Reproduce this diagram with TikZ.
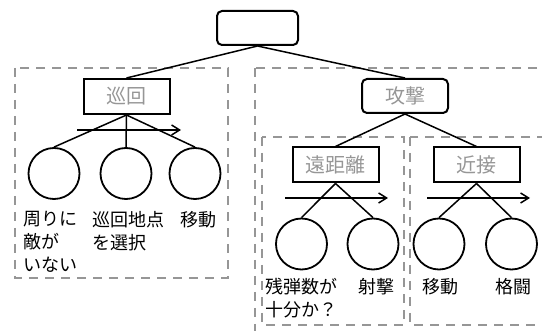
\documentclass[tikz,border=0pt]{standalone}
\usepackage{fontspec}
\setmainfont{Noto Sans CJK JP}
\usetikzlibrary{arrows.meta}
\definecolor{dashgray}{RGB}{150,150,150}
\definecolor{labelgray}{RGB}{150,150,150}
\tikzset{
  group/.style={draw=dashgray, line width=2pt, dash pattern=on 9pt off 7pt},
  rootbox/.style={draw, line width=2pt, rounded corners=5pt, minimum width=81pt, minimum height=34pt, inner sep=0pt},
  selbox/.style={draw, line width=2pt, rounded corners=5pt, minimum width=86pt, minimum height=34pt, inner sep=0pt, text=labelgray, font=\fontsize{20}{24}\selectfont},
  seqbox/.style={draw, line width=2pt, minimum width=86pt, minimum height=35pt, inner sep=0pt, text=labelgray, font=\fontsize{20}{24}\selectfont},
  leaf/.style={draw, circle, line width=1.8pt, minimum size=51pt, inner sep=0pt},
  edge/.style={line width=1.5pt},
  order/.style={line width=1.5pt, -{Straight Barb[length=8pt,width=10pt]}},
  leaftext/.style={anchor=north west, inner sep=0pt, align=left, font=\fontsize{18}{23}\selectfont},
}
\begin{document}
\begin{tikzpicture}[x=1pt,y=-1pt]
\useasboundingbox (0,0) rectangle (542,331);
\clip (0,0) rectangle (542,331);
% groups
\draw[group] (15,68) rectangle (228,278);
\draw[group] (255,68) rectangle (570,350);
\draw[group] (262,137) rectangle (404,325);
\draw[group] (410,137) rectangle (570,325);
% nodes
\node[rootbox] (root) at (257.5,28) {};
\node[seqbox] (patrol) at (126.5,96.5) {巡回};
\node[selbox] (attack) at (405,96) {攻撃};
\node[seqbox] (ranged) at (335.5,165) {遠距離};
\node[seqbox] (melee) at (476.5,165) {近接};
\node[leaf] (l1) at (54,173.5) {};
\node[leaf] (l2) at (126,173.5) {};
\node[leaf] (l3) at (195,173.5) {};
\node[leaf] (r1) at (301.5,244) {};
\node[leaf] (r2) at (373,244) {};
\node[leaf] (r3) at (439,244) {};
\node[leaf] (r4) at (511.5,244) {};
% edges
\draw[edge] (root.south) -- (patrol.north);
\draw[edge] (root.south) -- (attack.north);
\draw[edge] (patrol.south) -- (l1.north);
\draw[edge] (patrol.south) -- (l2.north);
\draw[edge] (patrol.south) -- (l3.north);
\draw[edge] (attack.south) -- (ranged.north);
\draw[edge] (attack.south) -- (melee.north);
\draw[edge] (ranged.south) -- (r1.north);
\draw[edge] (ranged.south) -- (r2.north);
\draw[edge] (melee.south) -- (r3.north);
\draw[edge] (melee.south) -- (r4.north);
% order arrows
\coordinate (pa1) at (77,130);
\coordinate (pa2) at (181,130);
\coordinate (ra1) at (285,198);
\coordinate (ra2) at (388,198);
\coordinate (ma1) at (427,198);
\coordinate (ma2) at (530,198);
\draw[order] (pa1) -- (pa2);
\draw[order] (ra1) -- (ra2);
\draw[order] (ma1) -- (ma2);
% leaf labels
\node[leaftext] (t1) at (23,211) {周りに\\敵が\\いない};
\node[leaftext] (t2) at (92,211) {巡回地点\\を選択};
\node[leaftext] (t3) at (180,211) {移動};
\node[leaftext] (t4) at (265,278) {残弾数が\\十分か？};
\node[leaftext] (t5) at (358,278) {射撃};
\node[leaftext] (t6) at (422,278) {移動};
\node[leaftext] (t7) at (495,278) {格闘};
\end{tikzpicture}
\end{document}
